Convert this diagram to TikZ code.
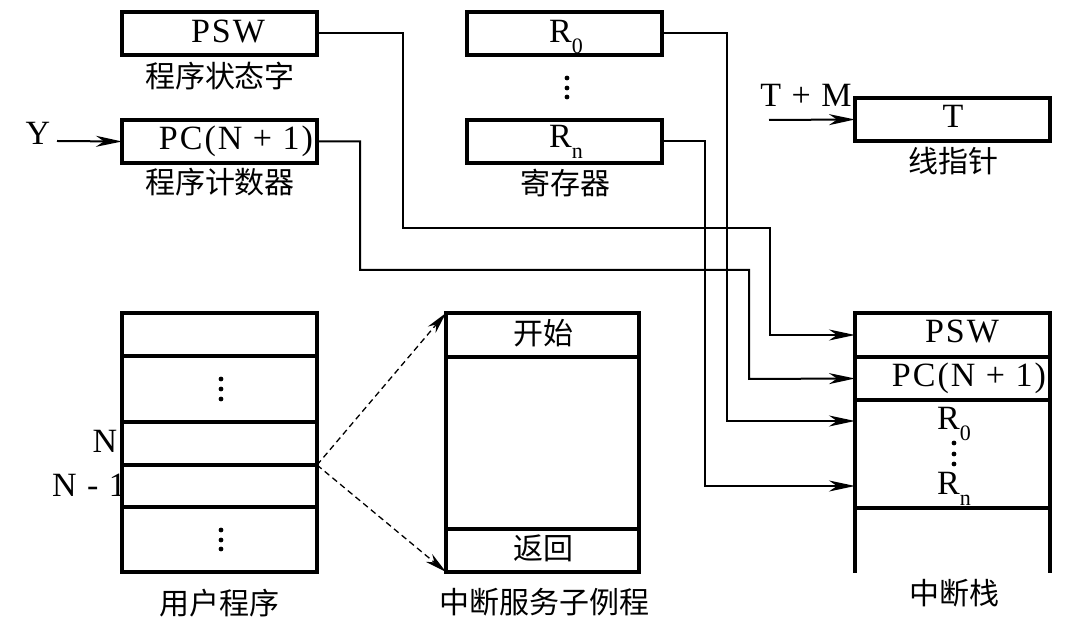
\documentclass[tikz,border=0pt]{standalone}
\usepackage{fontspec}
\setmainfont{Liberation Serif}
\newfontfamily\latsp[LetterSpace=6]{Liberation Serif}
\newfontfamily\cjk{Noto Sans CJK SC}
\usetikzlibrary{arrows.meta}
\newcommand{\subsc}[1]{\raisebox{-5.5pt}{\fontsize{11}{11}\selectfont #1}}
\begin{document}
\begin{tikzpicture}[x=0.5pt,y=-0.5pt,
  box/.style={draw, line width=1.6pt, inner sep=0pt, outer sep=0pt, anchor=north west, minimum width=97.5pt},
  lat/.style={inner sep=0pt, font=\latsp\fontsize{17}{19}\selectfont, anchor=base},
  cn/.style={inner sep=0pt, font=\cjk\fontsize{15}{17}\selectfont},
  conn/.style={line width=1pt, -{Stealth[length=13pt,width=5.5pt,inset=4pt]}},
  dconn/.style={line width=0.65pt, dash pattern=on 3pt off 2pt, -{Stealth[length=11pt,width=5pt,inset=3.5pt]}},
  dot/.style={fill=black, draw=none, circle, minimum size=2.4pt, inner sep=0pt}
]
\useasboundingbox[fill=white] (0,0) rectangle (1084,630);

% ---- top registers ----
\node[box, minimum height=21.5pt] (psw) at (122,12) {};
\node[lat] (pswt) at (228,43) {PSW};
\node[cn] (pswl) at (220,76) {程序状态字};

\node[box, minimum height=21.5pt] (pc) at (122,120) {};
\node[lat] (pct) at (236,150) {PC(N + 1)};
\node[cn] (pcl) at (220,182) {程序计数器};

\node[lat] (yt) at (38,145) {Y};
\coordinate (yin) at (57,141);
\draw[conn] (yin) -- (pc.west);

\node[box, minimum height=21.5pt] (r0) at (467,12) {};
\node[lat] (r0t) at (566,43) {R\subsc{0}};
\node[dot] (rd1) at (567,78) {};
\node[dot] (rd2) at (567,88) {};
\node[dot] (rd3) at (567,97) {};
\node[box, minimum height=21.5pt] (rn) at (467,120) {};
\node[lat] (rnt) at (566,148) {R\subsc{n}};
\node[cn] (rl) at (565,183) {寄存器};

\node[box, minimum height=21.5pt] (tb) at (855,98) {};
\node[lat] (tt) at (953,128) {T};
\node[lat] (tmt) at (806,107) {T + M};
\coordinate (tin) at (769,120);
\draw[conn] (tin) -- (tb.west);
\node[cn] (tl) at (953,161) {线指针};

% ---- user program ----
\node[box, minimum height=21.5pt] (u1) at (122,313) {};
\node[box, minimum height=33pt] (u2) at (122,356) {};
\node[box, minimum height=21.5pt] (u3) at (122,422) {};
\node[box, minimum height=21pt] (u4) at (122,465) {};
\node[box, minimum height=32.5pt] (u5) at (122,507) {};
\node[dot] at (221,379) {};
\node[dot] at (221,389) {};
\node[dot] at (221,399) {};
\node[dot] at (221,530) {};
\node[dot] at (221,540) {};
\node[dot] at (221,549) {};
\node[lat] (nt) at (105,453) {N};
\node[lat] (n1t) at (89,497) {N - 1};
\node[cn] (ul) at (219,603) {用户程序};

% ---- interrupt service routine ----
\node[box, minimum width=96.5pt, minimum height=22pt] (i1) at (446,313) {};
\node[box, minimum width=96.5pt, minimum height=86pt] (i2) at (446,357) {};
\node[box, minimum width=96.5pt, minimum height=21.5pt] (i3) at (446,529) {};
\node[cn] (kst) at (543,333) {开始};
\node[cn] (fht) at (543,548) {返回};
\node[cn] (il) at (544,602) {中断服务子例程};

\draw[dconn] (u3.south east) -- (i1.north west);
\draw[dconn] (u3.south east) -- (i3.south west);

% ---- interrupt stack ----
\node[box, minimum height=22pt] (s1) at (855,313) {};
\node[box, minimum height=21.5pt] (s2) at (855,357) {};
\node[box, minimum height=54pt] (s3) at (855,400) {};
\coordinate (sbl) at (855,573);
\coordinate (sbr) at (1050,573);
\draw[line width=1.6pt] (s3.south west) -- (sbl);
\draw[line width=1.6pt] (s3.south east) -- (sbr);
\node[lat] (s1t) at (962,343) {PSW};
\node[lat] (s2t) at (969,387) {PC(N + 1)};
\node[lat] (s3a) at (954,430) {R\subsc{0}};
\node[dot] at (954,443) {};
\node[dot] at (954,454) {};
\node[dot] at (954,464) {};
\node[lat] (s3b) at (954,495) {R\subsc{n}};
\node[cn] (sl) at (954,593) {中断栈};
\coordinate (sr0) at (855,421);
\coordinate (srn) at (855,486);

% ---- connectors ----
\draw[conn] (psw.east) -| (403,228) -| (770,335) -- (s1.west);
\draw[conn] (pc.east) -| (360,270) -| (749,379) -- (s2.west);
\draw[conn] (r0.east) -| (727,421) -- (sr0);
\draw[conn] (rn.east) -| (705,486) -- (srn);
\end{tikzpicture}
\end{document}
